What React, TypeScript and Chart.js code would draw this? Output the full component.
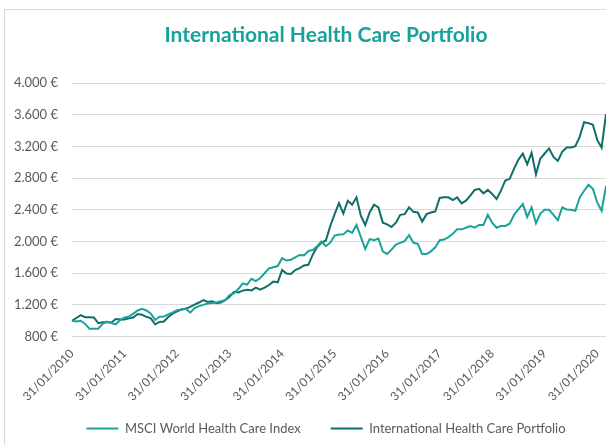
import React, { useEffect, useRef } from "react";
import { Chart, registerables } from "chart.js";

Chart.register(...registerables);

const seriesNames = ["MSCI World Health Care Index", "International Health Care Portfolio"];
const seriesColors = ["#1BA39B", "#0F6E69"];
const titleText = "International Health Care Portfolio";

const yTicks = [800, 1200, 1600, 2000, 2400, 2800, 3200, 3600, 4000];
const yearTickLabels = [
  "31/01/2010", "31/01/2011", "31/01/2012", "31/01/2013", "31/01/2014", "31/01/2015",
  "31/01/2016", "31/01/2017", "31/01/2018", "31/01/2019", "31/01/2020",
];

// Monthly observations Jan 2010 .. Mar 2020
const msciValues = [
  1000, 990, 1000, 960, 900, 900, 900, 960, 990, 970,
  955, 1010, 1040, 1050, 1090, 1130, 1150, 1130, 1090, 1010,
  1050, 1052, 1080, 1105, 1132, 1145, 1153, 1102, 1160, 1185,
  1200, 1217, 1225, 1230, 1245, 1260, 1323, 1345, 1400, 1470,
  1455, 1530, 1500, 1540, 1600, 1660, 1675, 1690, 1790, 1760,
  1770, 1800, 1830, 1825, 1880, 1893, 1940, 2000, 1940, 1985,
  2075, 2089, 2090, 2140, 2110, 2208, 2055, 1906, 2030, 2017,
  2038, 1876, 1842, 1898, 1962, 1983, 2004, 2081, 1983, 1970,
  1842, 1842, 1876, 1927, 2017, 2025, 2055, 2098, 2153, 2153,
  2174, 2196, 2174, 2208, 2208, 2336, 2238, 2174, 2196, 2196,
  2225, 2336, 2408, 2472, 2310, 2430, 2230, 2353, 2400, 2400,
  2336, 2268, 2430, 2404, 2400, 2387, 2557, 2640, 2715, 2664,
  2493, 2387, 2700,
];

const portfolioValues = [
  1000, 1035, 1070, 1045, 1044, 1042, 970, 980, 982, 978,
  1022, 1017, 1015, 1030, 1040, 1085, 1075, 1050, 1030, 955,
  985, 990, 1047, 1089, 1119, 1140, 1153, 1174, 1204, 1230,
  1260, 1238, 1247, 1221, 1230, 1260, 1302, 1366, 1357, 1380,
  1391, 1383, 1417, 1391, 1417, 1451, 1494, 1485, 1640, 1595,
  1590, 1640, 1664, 1698, 1706, 1834, 1930, 1983, 2013, 2196,
  2345, 2485, 2353, 2515, 2464, 2557, 2323, 2208, 2366, 2464,
  2430, 2238, 2217, 2183, 2238, 2336, 2345, 2430, 2374, 2366,
  2251, 2345, 2366, 2379, 2549, 2557, 2557, 2523, 2557, 2481,
  2515, 2579, 2651, 2664, 2608, 2651, 2600, 2536, 2642, 2770,
  2791, 2919, 3034, 3110, 2974, 3119, 2847, 3047, 3110, 3174,
  3068, 3017, 3132, 3187, 3187, 3204, 3323, 3506, 3494, 3472,
  3281, 3183, 3608,
];

// month-end category labels, Jan 2010 .. Mar 2020
const categories: string[] = (() => {
  const out: string[] = [];
  for (let i = 0; i < msciValues.length; i++) {
    const y = 2010 + Math.floor(i / 12);
    const m = (i % 12) + 1;
    const last = new Date(y, m, 0).getDate();
    out.push(`${String(last).padStart(2, "0")}/${String(m).padStart(2, "0")}/${y}`);
  }
  return out;
})();

function formatEuro(v: number): string {
  const th = Math.floor(v / 1000);
  const rest = v % 1000;
  const s = th > 0 ? `${th}.${String(rest).padStart(3, "0")}` : String(rest);
  return `${s} €`;
}

const borderPlugin = {
  id: "frameBorder",
  beforeDraw(chart: any) {
    const ctx = chart.ctx;
    ctx.save();
    ctx.strokeStyle = "#D9D9D9";
    ctx.lineWidth = 1;
    ctx.beginPath();
    ctx.moveTo(4.5, chart.height);
    ctx.lineTo(4.5, 9.5);
    ctx.lineTo(chart.width, 9.5);
    ctx.stroke();
    ctx.restore();
  },
};

const noLabelClip = (scale: any) => {
  scale._computeLabelArea = () => undefined;
};

export default function App() {
  const canvasRef = useRef<HTMLCanvasElement | null>(null);

  useEffect(() => {
    document.body.style.margin = "0";
    const canvas = canvasRef.current;
    if (!canvas) return;
    Chart.defaults.font.family = "Lato";
    const chart = new Chart(canvas, {
      type: "line",
      data: {
        labels: categories,
        datasets: [
          {
            label: seriesNames[0],
            data: msciValues,
            borderColor: seriesColors[0],
            backgroundColor: seriesColors[0],
            borderWidth: 2,
            pointRadius: 0,
            tension: 0,
          },
          {
            label: seriesNames[1],
            data: portfolioValues,
            borderColor: seriesColors[1],
            backgroundColor: seriesColors[1],
            borderWidth: 2,
            pointRadius: 0,
            tension: 0,
          },
        ],
      },
      options: {
        animation: false,
        responsive: false,
        maintainAspectRatio: false,
        layout: { padding: { left: 46, right: 0, top: 0, bottom: 0 } },
        plugins: {
          title: {
            display: true,
            text: titleText,
            color: "#17A19B",
            font: { family: "Lato", size: 21, weight: "bold" },
            padding: { top: 22.4, bottom: 35.4 },
          },
          legend: {
            display: true,
            position: "bottom",
            labels: {
              usePointStyle: true,
              pointStyle: "line",
              pointStyleWidth: 32,
              padding: 30,
              color: "#595959",
              font: { family: "Lato", size: 13 },
            },
          },
          tooltip: { enabled: false },
        },
        scales: {
          x: {
            type: "category",
            offset: false,
            grid: { display: false, drawTicks: false },
            border: { display: false },
            ticks: {
              autoSkip: false,
              maxRotation: 45,
              minRotation: 45,
              padding: 10,
              color: "#595959",
              font: { family: "Lato", size: 12 },
              callback: function (this: any, _v: any, index: number) {
                const lab = categories[index];
                return yearTickLabels.includes(lab) ? lab : "";
              },
            },
            afterFit: (scale: any) => {
              scale.height = 55.4;
              scale.paddingLeft = 0;
              scale.paddingRight = 0;
              noLabelClip(scale);
            },
          },
          y: {
            min: yTicks[0],
            max: yTicks[yTicks.length - 1],
            grid: { color: "#D9D9D9", drawTicks: false, lineWidth: 1 },
            border: { display: false },
            afterBuildTicks: (scale: any) => {
              scale.ticks = yTicks.map((v) => ({ value: v }));
            },
            ticks: {
              padding: 14,
              color: "#595959",
              font: { family: "Lato", size: 13 },
              callback: (v: any) => formatEuro(Number(v)),
            },
            afterFit: (scale: any) => {
              scale.width = 26;
              scale.paddingTop = 0;
              scale.paddingBottom = 0;
              noLabelClip(scale);
            },
          },
        },
      } as any,
      plugins: [borderPlugin],
    });
    return () => chart.destroy();
  }, []);

  return (
    <div style={{ width: 606, height: 445, position: "relative", background: "#fff" }}>
      <canvas ref={canvasRef} width={606} height={445} style={{ display: "block", width: 606, height: 445 }} />
    </div>
  );
}
